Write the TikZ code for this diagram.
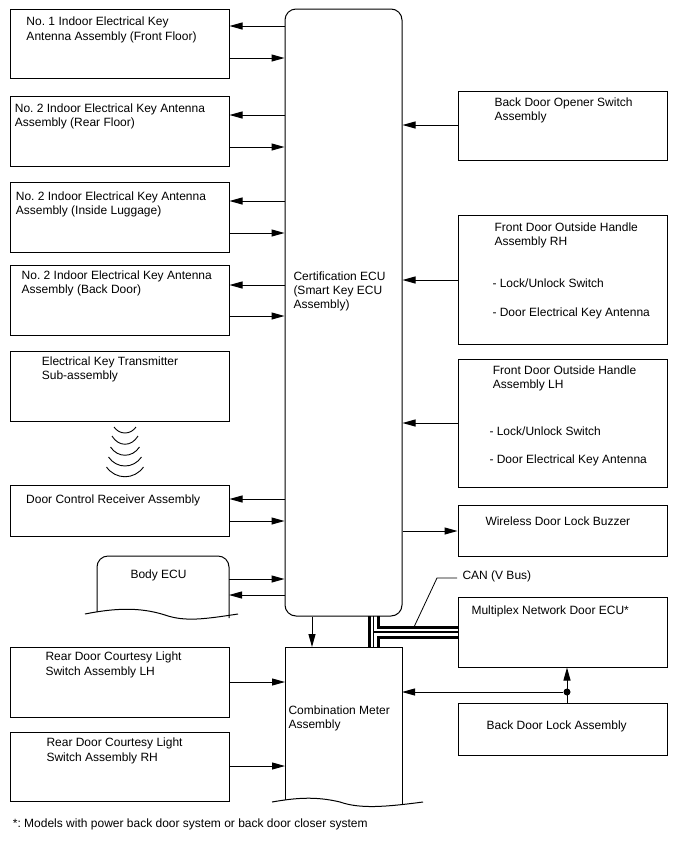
\documentclass[tikz,border=0pt]{standalone}
\usepackage{fontspec}
\setmainfont{Liberation Sans}
\usetikzlibrary{arrows.meta, calc, positioning}
\tikzset{
    box/.style={draw, line width=1pt, minimum width=219pt, minimum height=#1, inner sep=0pt},
    rbox/.style={draw, line width=1pt, minimum width=209pt, minimum height=#1, inner sep=0pt},
    txt/.style={anchor=north west, inner sep=0pt, align=left, font=\fontsize{12}{14.2}\selectfont\frenchspacing},
    sig/.style={-{Triangle[length=13pt,width=7pt]}, line width=1pt},
    bus/.style={line width=3pt},
    thin/.style={line width=1pt}
}

\begin{document}
\begin{tikzpicture}[x=1pt, y=-1pt]
    \useasboundingbox[fill=white] (0, 0) rectangle (688, 852);

    % left column
    \node[box=69pt] (ant1) at (119.5, 43.5) {};
    \node[box=70pt] (ant2) at (119.5, 131) {};
    \node[box=70pt] (ant3) at (119.5, 217) {};
    \node[box=70pt] (ant4) at (119.5, 300) {};
    \node[box=70pt] (trans) at (119.5, 386) {};
    \node[box=51pt] (recv) at (119.5, 510.5) {};
    \node[box=70pt] (courl) at (119.5, 682) {};
    \node[box=69pt] (courr) at (119.5, 766.5) {};

    % right column
    \node[rbox=69pt] (opener) at (562.5, 125.5) {};
    \node[rbox=129pt] (handr) at (562.5, 279.5) {};
    \node[rbox=128pt] (handl) at (562.5, 423) {};
    \node[rbox=51pt] (buzz) at (562.5, 530.5) {};
    \node[rbox=70pt] (mpx) at (562.5, 632) {};
    \node[rbox=52pt] (lock) at (562.5, 729) {};

    % the ECU in the middle
    \node[draw, line width=1pt, rounded corners=11pt, minimum width=117pt, minimum height=607pt, inner sep=0pt] (ecu) at (343.5, 312.5) {};

    % open bottomed outlines
    \coordinate (bodytr) at (229, 556);
    \coordinate (metertr) at (402, 647);
    \draw[thin, rounded corners=11pt] (97, 612) -- (97, 556) -- (bodytr) -- (229, 618);
    \draw[thin] (85, 614) .. controls (115, 608) and (140, 607) .. (165, 615) .. controls (185, 622) and (205, 619) .. (238, 614);
    \draw[thin] (285, 800) -- (285, 647) -- (metertr) -- (402, 805);
    \draw[thin] (272, 802) .. controls (295, 798) and (315, 796) .. (340, 802) .. controls (360, 809) and (385, 807) .. (423, 802);
    \coordinate (bodye) at (229, 580);
    \coordinate (meterw) at (285, 720);
    \coordinate (metere) at (402, 720);
    \coordinate (metern) at (312, 647);

    % wireless signal between transmitter and receiver
    \foreach \w/\y/\d in {11/427/8, 13/436/11, 14.5/447/11, 16.5/457/12, 18.5/467/13}
        \draw[line width=0.9pt] (125-\w, \y) .. controls (125-\w/2, \y+\d) and (125+\w/2, \y+\d) .. (125+\w, \y);

    % links on the left side
    \foreach \nm/\ya/\yb in {ant1/26/58, ant2/115/147, ant3/201/233, ant4/285/316, recv/499/521} {
        \draw[sig] (ecu.west |- 0,\ya) -- (\nm.east |- 0,\ya);
        \draw[sig] (\nm.east |- 0,\yb) -- (ecu.west |- 0,\yb);
    }
    \draw[sig] (bodye |- 0,579) -- (ecu.west |- 0,579);
    \draw[sig] (ecu.west |- 0,595) -- (bodye |- 0,595);
    \draw[sig] (courl.east |- 0,682) -- (meterw |- 0,682);
    \draw[sig] (courr.east |- 0,766) -- (meterw |- 0,766);

    % links on the right side
    \draw[sig] (opener.west |- 0,125) -- (ecu.east |- 0,125);
    \draw[sig] (handr.west |- 0,280) -- (ecu.east |- 0,280);
    \draw[sig] (handl.west |- 0,423) -- (ecu.east |- 0,423);
    \draw[sig] (ecu.east |- 0,531) -- (buzz.west |- 0,531);
    \draw[sig] (ecu.south -| metern) -- (metern);

    % back door lock goes to both
    \node[circle, fill, inner sep=0pt, minimum size=7pt] (dot) at (567, 692) {};
    \draw[sig] (lock.north -| dot) -- (mpx.south -| dot);
    \draw[sig] (dot) -- (metere |- dot);

    % CAN wiring
    \coordinate (busa) at (369, 616);
    \coordinate (busb) at (369, 647);
    \coordinate (busc) at (378, 616);
    \coordinate (busd) at (378, 647);
    \draw[bus] (busa) -- (busb);
    \draw[line width=1.6pt] (373.3, 616) -- (373.3, 647);
    \draw[bus] (busc) -- (378, 627) -- (mpx.west |- 0,627);
    \draw[bus] (busd) -- (378, 637.5) -- (mpx.west |- 0,637.5);
    \draw[line width=1.6pt] (373.3, 632) -- (mpx.west |- 0,632);
    \node[txt] (canlbl) at (462.3, 570.3) {CAN (V Bus)};
    \draw[line width=0.8pt] (414, 627) -- (437, 578) -- (457, 578);

    % texts
    \node[txt] (ant1t) at (26.3, 17) {No. 1 Indoor Electrical Key\\Antenna Assembly (Front Floor)};
    \node[txt] (ant2t) at (14.7, 103.3) {No. 2 Indoor Electrical Key Antenna\\Assembly (Rear Floor)};
    \node[txt] (ant3t) at (15.7, 191.3) {No. 2 Indoor Electrical Key Antenna\\Assembly (Inside Luggage)};
    \node[txt] (ant4t) at (21.5, 270.3) {No. 2 Indoor Electrical Key Antenna\\Assembly (Back Door)};
    \node[txt] (transt) at (41.7, 356.3) {Electrical Key Transmitter\\Sub-assembly};
    \node[txt] (recvt) at (26, 494.6) {Door Control Receiver Assembly};
    \node[txt] (bodyt) at (130.3, 569.6) {Body ECU};
    \node[txt] (courlt) at (45.3, 652) {Rear Door Courtesy Light\\Switch Assembly LH};
    \node[txt] (courrt) at (46.3, 738) {Rear Door Courtesy Light\\Switch Assembly RH};
    \node[txt] (ecut) at (293.3, 271.3) {Certification ECU\\(Smart Key ECU\\Assembly)};
    \node[txt] (metert) at (288.3, 705.3) {Combination Meter\\Assembly};
    \node[txt] (openert) at (494.3, 97.3) {Back Door Opener Switch\\Assembly};
    \node[txt] (handrt) at (494.3, 222.3) {Front Door Outside Handle\\Assembly RH};
    \node[txt] (handra) at (492.3, 278.3) {- Lock/Unlock Switch};
    \node[txt] (handrb) at (492.3, 307.3) {- Door Electrical Key Antenna};
    \node[txt] (handlt) at (492.7, 365.3) {Front Door Outside Handle\\Assembly LH};
    \node[txt] (handla) at (489.3, 426.3) {- Lock/Unlock Switch};
    \node[txt] (handlb) at (489.3, 455) {- Door Electrical Key Antenna};
    \node[txt] (buzzt) at (485.3, 516.3) {Wireless Door Lock Buzzer};
    \node[txt] (mpxt) at (471.3, 605.6) {Multiplex Network Door ECU*};
    \node[txt] (lockt) at (486.5, 720.3) {Back Door Lock Assembly};
    \node[txt] (note) at (12.7, 818.6) {*: Models with power back door system or back door closer system};
\end{tikzpicture}
\end{document}
